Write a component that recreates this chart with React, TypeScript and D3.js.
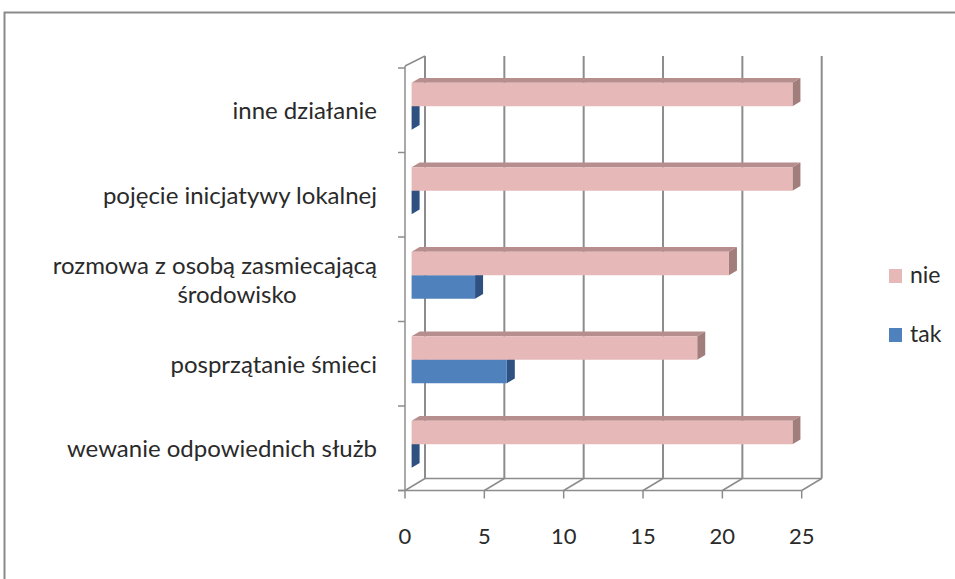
import * as d3 from "d3";

// data
const categories = [
  "inne działanie",
  "pojęcie inicjatywy lokalnej",
  "rozmowa z osobą zasmiecającą środowisko",
  "posprzątanie śmieci",
  "wewanie odpowiednich służb",
];
const labelLines = [
  ["inne działanie"],
  ["pojęcie inicjatywy lokalnej"],
  ["rozmowa z osobą zasmiecającą", "środowisko"],
  ["posprzątanie śmieci"],
  ["wewanie odpowiednich służb"],
];
const nieValues = [24, 24, 20, 18, 24];
const takValues = [0, 0, 4, 6, 0];
const series = ["nie", "tak"];
const xTicks = [0, 5, 10, 15, 20, 25];

const W = 955;
const H = 579;
const DX = 20; // depth offset of the back wall
const DY = -12;
const D0 = 0.33; // bar front depth fraction
const D1 = 0.73; // bar back depth fraction

const FONT = "Lato, 'Open Sans', sans-serif";
const GRID = "#8c8c8c";
const TEXT = "#2a2a2a";

const colors: Record<string, { front: string; top: string; side: string }> = {
  nie: { front: "#e6b9b8", top: "#b58e8d", side: "#a17d7c" },
  tak: { front: "#4f81bd", top: "#3d6696", side: "#2e5181" },
};

const App = () => {
  const x = d3.scaleLinear().domain([0, 25]).range([405, 801.7]);
  const y = d3.scaleBand<string>().domain(categories).range([68, 490.5]);
  const inner = d3
    .scaleBand<string>()
    .domain(series)
    .range([0, y.step()])
    .paddingInner(0)
    .paddingOuter(0.8);

  const P = (v: number, yy: number, d: number): [number, number] => [
    x(v) + d * DX,
    yy + d * DY,
  ];
  const poly = (pts: [number, number][]) =>
    pts.map((p) => p.map((n) => n.toFixed(2)).join(",")).join(" ");

  const bar = (cat: string, s: string, v: number, key: string) => {
    const t = (y(cat) as number) + (inner(s) as number);
    const b = t + inner.bandwidth();
    const c = colors[s];
    return (
      <g key={key}>
        <polygon
          points={poly([P(0, t, D0), P(v, t, D0), P(v, t, D1), P(0, t, D1)])}
          fill={c.top}
        />
        <polygon
          points={poly([P(v, t, D0), P(v, t, D1), P(v, b, D1), P(v, b, D0)])}
          fill={c.side}
        />
        <polygon
          points={poly([P(0, t, D0), P(v, t, D0), P(v, b, D0), P(0, b, D0)])}
          fill={c.front}
        />
      </g>
    );
  };

  const yTop = 68;
  const yBot = 490.5;
  const catTicks = [...categories.map((c) => y(c) as number), yBot];

  return (
    <svg
      width={W}
      height={H}
      style={{ position: "absolute", left: 0, top: 0, background: "#fff" }}
    >
      <rect x={4.5} y={12.5} width={1000} height={1000} fill="none" stroke="#8a8a8a" strokeWidth={2} />

      {/* back wall gridlines */}
      {xTicks.map((t) => (
        <line
          key={"g" + t}
          x1={x(t) + DX}
          x2={x(t) + DX}
          y1={yTop + DY}
          y2={yBot + DY}
          stroke={GRID}
          strokeWidth={2}
        />
      ))}
      {/* floor */}
      <line x1={x(0) + DX} x2={x(25) + DX} y1={yBot + DY} y2={yBot + DY} stroke={GRID} strokeWidth={1.5} />
      {xTicks.map((t) => (
        <line
          key={"f" + t}
          x1={x(t)}
          y1={yBot}
          x2={x(t) + DX}
          y2={yBot + DY}
          stroke={GRID}
          strokeWidth={1.5}
        />
      ))}
      {/* side wall top edge */}
      <line x1={x(0)} y1={yTop - 2} x2={x(0) + DX} y2={yTop + DY} stroke={GRID} strokeWidth={1.5} />

      {/* bars */}
      {categories.map((c, i) => (
        <g key={c}>
          {bar(c, "tak", takValues[i], "t")}
          {bar(c, "nie", nieValues[i], "n")}
        </g>
      ))}

      {/* front axes */}
      <line x1={x(0)} x2={x(0)} y1={yTop - 2} y2={yBot} stroke={GRID} strokeWidth={1.5} />
      <line x1={x(0) - 7} x2={x(25)} y1={yBot} y2={yBot} stroke={GRID} strokeWidth={1.5} />
      {catTicks.map((t, i) => (
        <line key={"ct" + i} x1={x(0) - 7} x2={x(0)} y1={t} y2={t} stroke={GRID} strokeWidth={1.5} />
      ))}
      {xTicks.map((t) => (
        <line key={"xt" + t} x1={x(t)} x2={x(t)} y1={yBot} y2={yBot + 8} stroke={GRID} strokeWidth={1.5} />
      ))}

      {/* tick labels */}
      {xTicks.map((t) => (
        <text
          key={"xl" + t}
          x={x(t)}
          y={544}
          textAnchor="middle"
          fontFamily={FONT}
          fontSize={22}
          fill={TEXT}
        >
          {t}
        </text>
      ))}
      {categories.map((c, i) => {
        const lines = labelLines[i];
        const cy = (y(c) as number) + y.step() / 2;
        const lh = 29;
        return lines.map((ln, j) => (
          <text
            key={c + j}
            x={j === 0 ? 377 : 237}
            y={cy + (j - (lines.length - 1) / 2) * lh + 9}
            textAnchor={j === 0 ? "end" : "middle"}
            fontFamily={FONT}
            fontSize={24}
            fill={TEXT}
          >
            {ln}
          </text>
        ));
      })}

      {/* legend */}
      {series.map((s, i) => (
        <g key={"lg" + s} transform={`translate(889,${269 + i * 59})`}>
          <rect width={13} height={14} fill={colors[s].front} />
          <text x={21} y={14} fontFamily={FONT} fontSize={23} fill={TEXT}>
            {s}
          </text>
        </g>
      ))}
    </svg>
  );
};

export default App;
